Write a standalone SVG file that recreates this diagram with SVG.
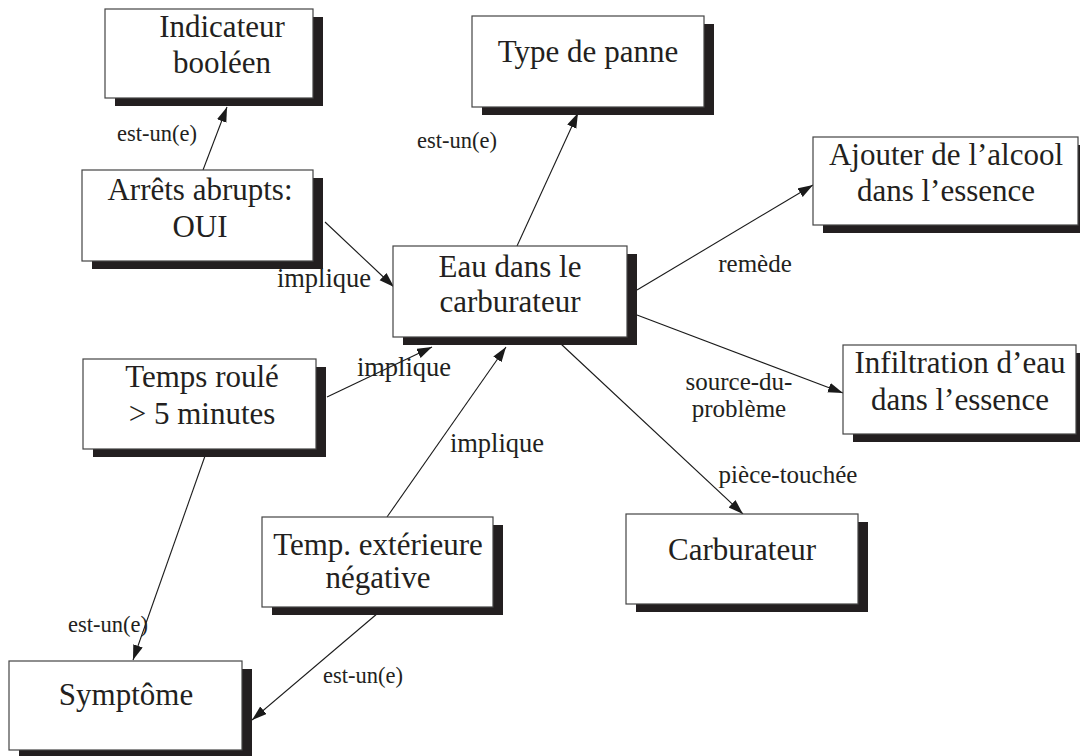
<svg xmlns="http://www.w3.org/2000/svg" width="1080" height="756" viewBox="0 0 1080 756">
<defs>
<marker id="ah" markerWidth="16" markerHeight="12" refX="15" refY="5" orient="auto" markerUnits="userSpaceOnUse">
<path d="M0,0 L15,5 L0,10 z" fill="#1a1a1a"/>
</marker>
<style>
.sh{fill:#231f20}
.bx{fill:#fff;stroke:#444;stroke-width:1.2}
.t{font-family:"Liberation Serif","Times New Roman",serif;font-size:31px;fill:#231f20;text-anchor:middle}
.l{font-family:"Liberation Serif","Times New Roman",serif;font-size:25px;fill:#231f20;text-anchor:middle}
.e{font-size:22.5px}
.i{font-size:26.5px}
.c{stroke:#1a1a1a;stroke-width:1.1;fill:none;marker-end:url(#ah)}
</style>
</defs>
<rect width="1080" height="756" fill="#fff"/>
<g id="connectors">
<line class="c" x1="203" y1="170" x2="227" y2="107"/>
<line class="c" x1="517" y1="246" x2="578" y2="113"/>
<line class="c" x1="325" y1="222" x2="394" y2="287"/>
<line class="c" x1="637" y1="290" x2="813" y2="185"/>
<line class="c" x1="637" y1="315" x2="843" y2="393"/>
<line class="c" x1="561" y1="344" x2="743" y2="514"/>
<line class="c" x1="327" y1="397" x2="432" y2="347"/>
<line class="c" x1="387" y1="517" x2="506" y2="347"/>
<line class="c" x1="205" y1="456" x2="133" y2="660"/>
<line class="c" x1="378" y1="613" x2="252" y2="720"/>
</g>
<g id="labels">
<text class="l e" x="157" y="141">est-un(e)</text>
<text class="l e" x="457" y="148">est-un(e)</text>
<text class="l i" x="324" y="287">implique</text>
<text class="l" x="755" y="272">remède</text>
<text class="l" x="739" y="390">source-du-</text>
<text class="l" x="739" y="417">problème</text>
<text class="l i" x="404" y="376">implique</text>
<text class="l i" x="497" y="452">implique</text>
<text class="l" x="788" y="483">pièce-touchée</text>
<text class="l e" x="108" y="632">est-un(e)</text>
<text class="l e" x="363" y="683">est-un(e)</text>
</g>
<g id="n-indicateur">
<rect class="sh" x="115" y="17" width="208" height="89"/>
<rect class="bx" x="105" y="9" width="208" height="89"/>
<text class="t" x="222" y="37">Indicateur</text>
<text class="t" x="222" y="73">booléen</text>
</g>
<g id="n-type">
<rect class="sh" x="482" y="24" width="232" height="91"/>
<rect class="bx" x="472" y="16" width="232" height="91"/>
<text class="t" x="588" y="62">Type de panne</text>
</g>
<g id="n-ajouter">
<rect class="sh" x="823" y="145" width="265" height="88"/>
<rect class="bx" x="813" y="137" width="265" height="88"/>
<text class="t" x="946" y="165">Ajouter de l’alcool</text>
<text class="t" x="946" y="201">dans l’essence</text>
</g>
<g id="n-arrets">
<rect class="sh" x="92" y="178" width="231" height="91"/>
<rect class="bx" x="82" y="170" width="231" height="91"/>
<text class="t" x="200" y="200">Arrêts abrupts:</text>
<text class="t" x="200" y="237">OUI</text>
</g>
<g id="n-eau">
<rect class="sh" x="403" y="254" width="234" height="91"/>
<rect class="bx" x="393" y="246" width="234" height="91"/>
<text class="t" x="510" y="277">Eau dans le</text>
<text class="t" x="510" y="312">carburateur</text>
</g>
<g id="n-temps">
<rect class="sh" x="93" y="367" width="233" height="90"/>
<rect class="bx" x="83" y="359" width="233" height="90"/>
<text class="t" x="202" y="387">Temps roulé</text>
<text class="t" x="202" y="424">&gt; 5 minutes</text>
</g>
<g id="n-infiltration">
<rect class="sh" x="853" y="353" width="233" height="89"/>
<rect class="bx" x="843" y="345" width="233" height="89"/>
<text class="t" x="960" y="373">Infiltration d’eau</text>
<text class="t" x="960" y="410">dans l’essence</text>
</g>
<g id="n-tempext">
<rect class="sh" x="272" y="525" width="231" height="90"/>
<rect class="bx" x="262" y="517" width="231" height="90"/>
<text class="t" x="378" y="555">Temp. extérieure</text>
<text class="t" x="378" y="588">négative</text>
</g>
<g id="n-carburateur">
<rect class="sh" x="636" y="522" width="232" height="90"/>
<rect class="bx" x="626" y="514" width="232" height="90"/>
<text class="t" x="742" y="560">Carburateur</text>
</g>
<g id="n-symptome">
<rect class="sh" x="19" y="669" width="233" height="89"/>
<rect class="bx" x="9" y="661" width="233" height="89"/>
<text class="t" x="126" y="705">Symptôme</text>
</g>
</svg>
